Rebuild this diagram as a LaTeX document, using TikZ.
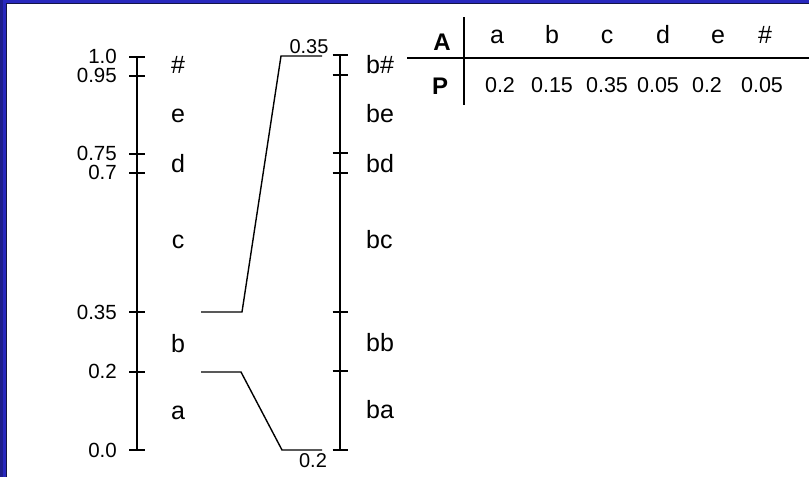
\documentclass[tikz,border=0pt]{standalone}
\usepackage{fontspec}
\setmainfont{Liberation Sans}
\definecolor{bgblue}{RGB}{40,40,190}
\definecolor{bgdark}{RGB}{30,30,140}
\definecolor{navy}{RGB}{20,20,70}
\tikzset{
  axisline/.style={line width=2pt},
  tickmark/.style={line width=2pt},
  conn/.style={line width=1.4pt, line join=miter},
  num/.style={font=\fontsize{20.5}{24}\selectfont, inner sep=0pt, anchor=base east},
  sym/.style={font=\fontsize{25}{29}\selectfont, inner sep=0pt, anchor=base},
  rsym/.style={font=\fontsize{25}{29}\selectfont, inner sep=0pt, anchor=base west},
  hdr/.style={font=\fontsize{24}{28}\selectfont\bfseries, inner sep=0pt, anchor=base},
  hlet/.style={font=\fontsize{25}{29}\selectfont, inner sep=0pt, anchor=base},
  hval/.style={font=\fontsize{21.5}{25}\selectfont, inner sep=0pt, anchor=base},
  clab/.style={font=\fontsize{20}{24}\selectfont, inner sep=0pt, anchor=base},
  tline/.style={line width=2pt}
}
\begin{document}
\begin{tikzpicture}[x=1pt,y=-1pt]
\useasboundingbox (0,0) rectangle (809,477);
% background frame
\fill[bgblue] (0,0) rectangle (809,477);
\fill[bgdark] (0,0) rectangle (3,477);
\fill[white] (7,3) rectangle (809,477);
\draw[navy, line width=1pt] (6.5,477) -- (6.5,3.5) -- (809,3.5);

% left axis
\foreach \n/\y in {L100/57, L95/76, L75/154, L70/173, L35/312, L20/372, L0/450}
  \coordinate (\n) at (137,\y);
\draw[axisline] (L100) -- (L0);
\foreach \n in {L100, L95, L75, L70, L35, L20, L0}
  \draw[tickmark] ([xshift=-8pt]\n) -- ([xshift=8pt]\n);
\node[num] (n100) at (117,63) {1.0};
\node[num] (n95) at (117,82) {0.95};
\node[num] (n75) at (117,160) {0.75};
\node[num] (n70) at (117,179) {0.7};
\node[num] (n35) at (117,319) {0.35};
\node[num] (n20) at (117,378) {0.2};
\node[num] (n0) at (117,457) {0.0};
\node[sym] (sh) at (178,73) {\#};
\node[sym] (se) at (178,122) {e};
\node[sym] (sd) at (178,172) {d};
\node[sym] (sc) at (178,248) {c};
\node[sym] (sb) at (178,352) {b};
\node[sym] (sa) at (178,419) {a};

% right axis
\foreach \n/\y in {R100/55, R95/75, R75/153, R70/173, R35/312, R20/371, R0/450}
  \coordinate (\n) at (340,\y);
\draw[axisline] (R100) -- (R0);
\foreach \n in {R100, R95, R75, R70, R35, R20, R0}
  \draw[tickmark] ([xshift=-7.5pt]\n) -- ([xshift=7.5pt]\n);
\node[rsym] (rh) at (366,73) {b\#};
\node[rsym] (re) at (366,122) {be};
\node[rsym] (rd) at (366,172) {bd};
\node[rsym] (rc) at (366,248) {bc};
\node[rsym] (rb) at (366,351) {bb};
\node[rsym] (ra) at (366,418) {ba};

% connectors
\coordinate (u1) at (201,312);
\coordinate (u2) at (242,312);
\coordinate (u3) at (281,56);
\coordinate (u4) at (322,56);
\draw[conn] (u1) -- (u2) -- (u3) -- (u4);
\coordinate (d1) at (201,372);
\coordinate (d2) at (241,372);
\coordinate (d3) at (282,450);
\coordinate (d4) at (322,450);
\draw[conn] (d1) -- (d2) -- (d3) -- (d4);
\node[clab] (c35) at (309,53) {0.35};
\node[clab] (c20) at (313,467) {0.2};

% table
\coordinate (tv1) at (464,17);
\coordinate (tv2) at (464,105);
\coordinate (th1) at (407,58);
\coordinate (th2) at (809,58);
\draw[tline] (tv1) -- (tv2);
\draw[tline] (th1) -- (th2);
\node[hdr] (hA) at (442,50) {A};
\node[hdr] (hP) at (440,94) {P};
\node[hlet] (ta) at (497,43) {a};
\node[hlet] (tb) at (552,43) {b};
\node[hlet] (tc) at (607,43) {c};
\node[hlet] (td) at (663,43) {d};
\node[hlet] (te) at (718,43) {e};
\node[hlet] (th) at (765,43) {\#};
\node[hval] (va) at (500,92) {0.2};
\node[hval] (vb) at (552,92) {0.15};
\node[hval] (vc) at (607,92) {0.35};
\node[hval] (vd) at (658,92) {0.05};
\node[hval] (ve) at (707,92) {0.2};
\node[hval] (vh) at (762,92) {0.05};
\end{tikzpicture}
\end{document}
